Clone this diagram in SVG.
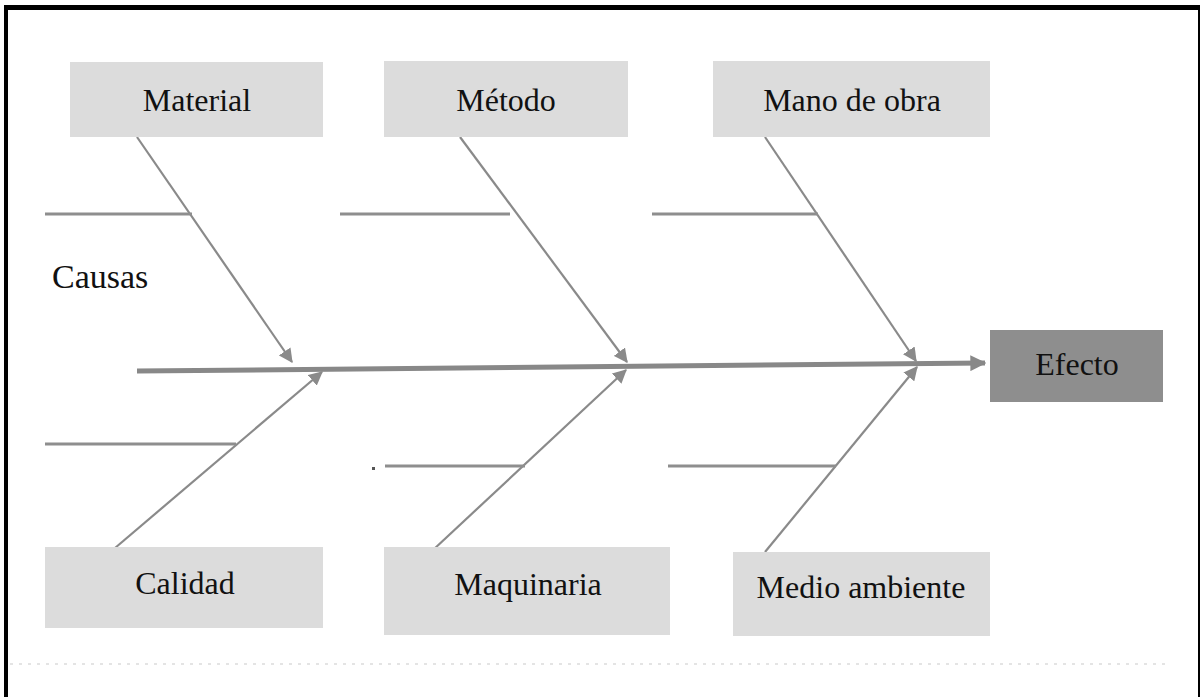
<svg xmlns="http://www.w3.org/2000/svg" width="1200" height="697" viewBox="0 0 1200 697">
  <style>
    .box { fill: #dcdcdc; }
    .effect { fill: #8e8e8e; }
    text { font-family: 'Liberation Serif', 'DejaVu Serif', 'Times New Roman', serif; font-size: 32px; fill: #111; }
    .label { text-anchor: middle; }
    .bone { stroke: #8a8a8a; stroke-width: 2.2; fill: none; }
    .rib { stroke: #8e8e8e; stroke-width: 3; fill: none; }
    .spine { stroke: #888; stroke-width: 5; fill: none; }
  </style>
  <defs>
    <marker id="head" viewBox="0 0 12 12" refX="11" refY="6" markerWidth="14" markerHeight="14" markerUnits="userSpaceOnUse" orient="auto">
      <path d="M0,0 L12,6 L0,12 z" fill="#8a8a8a"/>
    </marker>
    <marker id="spineHead" viewBox="0 0 12 12" refX="11" refY="6" markerWidth="16" markerHeight="16" markerUnits="userSpaceOnUse" orient="auto">
      <path d="M0,0 L12,6 L0,12 z" fill="#888"/>
    </marker>
  </defs>

  <!-- page background and frame -->
  <rect x="0" y="0" width="1200" height="697" fill="#ffffff"/>
  <rect x="4" y="5" width="4" height="692" fill="#000"/>
  <rect x="4" y="5" width="1196" height="5" fill="#000"/>
  <rect x="1198" y="5" width="2" height="692" fill="#000"/>
  <line x1="10" y1="664" x2="1170" y2="664" stroke="#e4e4e4" stroke-width="2" stroke-dasharray="3 6"/>

  <!-- connectors -->
  <g id="connectors">
    <line class="spine" x1="137" y1="371" x2="985" y2="363" marker-end="url(#spineHead)"/>

    <line class="bone" x1="137" y1="137" x2="292" y2="362" marker-end="url(#head)"/>
    <line class="bone" x1="460" y1="137" x2="627" y2="362" marker-end="url(#head)"/>
    <line class="bone" x1="765" y1="137" x2="916" y2="361" marker-end="url(#head)"/>

    <line class="bone" x1="115" y1="548" x2="322" y2="372" marker-end="url(#head)"/>
    <line class="bone" x1="433" y1="550" x2="626" y2="370" marker-end="url(#head)"/>
    <line class="bone" x1="765" y1="552" x2="917" y2="367" marker-end="url(#head)"/>

    <line class="rib" x1="45" y1="214" x2="192" y2="214"/>
    <line class="rib" x1="340" y1="214" x2="510" y2="214"/>
    <line class="rib" x1="652" y1="214" x2="818" y2="214"/>
    <line class="rib" x1="45" y1="444" x2="236" y2="444"/>
    <line class="rib" x1="385" y1="466" x2="525" y2="466"/>
    <line class="rib" x1="668" y1="466" x2="836" y2="466"/>
    <rect x="372" y="467" width="3" height="3" fill="#555"/>
  </g>

  <!-- cause categories -->
  <g id="material">
    <rect class="box" x="70" y="62" width="253" height="75"/>
    <text class="label" x="197" y="111" font-family="Liberation Serif, serif">Material</text>
  </g>
  <g id="metodo">
    <rect class="box" x="384" y="61" width="244" height="76"/>
    <text class="label" x="506" y="111" font-family="Liberation Serif, serif">Método</text>
  </g>
  <g id="mano-de-obra">
    <rect class="box" x="713" y="61" width="277" height="76"/>
    <text class="label" x="852" y="111" font-family="Liberation Serif, serif">Mano de obra</text>
  </g>
  <g id="calidad">
    <rect class="box" x="45" y="547" width="278" height="81"/>
    <text class="label" x="185" y="594" font-family="Liberation Serif, serif">Calidad</text>
  </g>
  <g id="maquinaria">
    <rect class="box" x="384" y="547" width="286" height="88"/>
    <text class="label" x="528" y="595" font-family="Liberation Serif, serif">Maquinaria</text>
  </g>
  <g id="medio-ambiente">
    <rect class="box" x="733" y="552" width="257" height="84"/>
    <text class="label" x="861" y="598" font-family="Liberation Serif, serif">Medio ambiente</text>
  </g>

  <!-- effect -->
  <g id="efecto">
    <rect class="effect" x="990" y="330" width="173" height="72"/>
    <text class="label" x="1077" y="375" font-family="Liberation Serif, serif">Efecto</text>
  </g>

  <g id="causas">
    <text x="52" y="288" font-family="Liberation Serif, serif" style="font-size:34px">Causas</text>
  </g>
</svg>
